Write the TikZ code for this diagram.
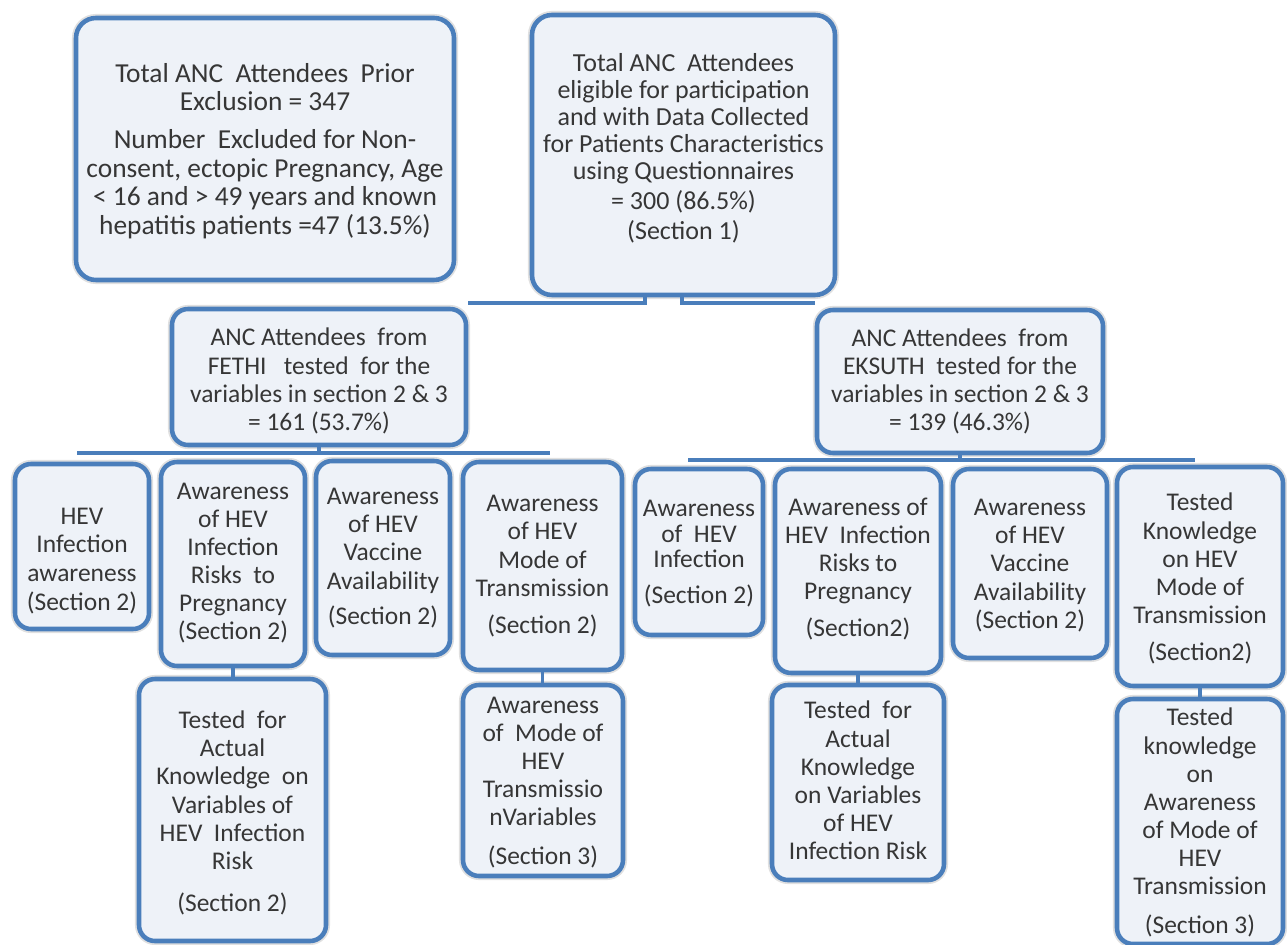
\documentclass[tikz,border=0pt]{standalone}
\usepackage{fontspec}
\setmainfont{Carlito}
\usetikzlibrary{fit}
\definecolor{bord}{HTML}{4A7EBB}
\definecolor{boxfill}{HTML}{EEF2F8}
\definecolor{txt}{HTML}{363636}
\begin{document}
\begin{tikzpicture}[x=0.02cm, y=-0.02cm,
  box/.style={draw=bord, line width=2.6pt, fill=boxfill, rounded corners=0.32cm,
    inner sep=0pt,
    preaction={draw=black!12, line width=4.6pt}},
  lbl/.style={inner sep=0pt, align=center, text=txt,
    font=\fontsize{14.5}{16}\selectfont},
  conn/.style={draw=bord, line width=2.5pt},
  conntwo/.style={draw=bord, line width=2pt}]
\fill[white] (0,0) rectangle (1287,945);
\useasboundingbox (0,0) rectangle (1287,945);

\coordinate (tl) at (645,303);
\coordinate (tr) at (682,303);
\coordinate (bla) at (77,453);
\coordinate (blb) at (550,453);
\coordinate (bra) at (688,460);
\coordinate (brb) at (1195,460);

% boxes
\node[box, rounded corners=0.4cm, fit={(76,18) (454,280)}] (A) {};
\node[box, rounded corners=0.4cm, fit={(532,15) (835,295)}] (B) {};
\node[box, fit={(172,309) (466,445)}] (F) {};
\node[box, fit={(817,310) (1103,453)}] (E) {};
\node[box, fit={(15,464) (149,629)}] (L1) {};
\node[box, fit={(161,462) (305,666)}] (L2) {};
\node[box, fit={(316,461) (450,655)}] (L3) {};
\node[box, fit={(463,462) (622,670)}] (L4) {};
\node[box, fit={(635,469) (763,635)}] (R1) {};
\node[box, fit={(775,469) (941,673)}] (R2) {};
\node[box, fit={(953,469) (1107,658)}] (R3) {};
\node[box, fit={(1117,467) (1283,686)}] (R4) {};
\node[box, fit={(139,679) (326,941)}] (LB2) {};
\node[box, fit={(463,685) (623,876)}] (LB4) {};
\node[box, fit={(772,685) (944,880)}] (RB2) {};
\node[box, fit={(1117,699) (1283,944)}] (RB4) {};

% texts
\node[lbl, font=\fontsize{15.6}{16.2}\selectfont, yshift=-0.04cm] (At) at (A.center)
  {Total ANC\ \ Attendees\ \ Prior\\Exclusion = 347\\[5.4pt]Number\ \ Excluded for Non-\\consent, ectopic Pregnancy, Age\\< 16 and > 49 years and known\\hepatitis patients =47 (13.5\%)};
\node[lbl, font=\fontsize{14.8}{15.3}\selectfont, yshift=-0.28cm] (Bt) at (B.center)
  {Total ANC\ \ Attendees\\eligible for participation\\and with Data Collected\\for Patients Characteristics\\using Questionnaires\\[2pt]= 300 (86.5\%)\\[2pt](Section 1)\\[10pt]};
\node[lbl, yshift=-0.08cm] (Ft) at (F.center)
  {ANC Attendees\ \ from\\FETHI\ \ \ tested\ \ for the\\variables in section 2 \& 3\\= 161 (53.7\%)};
\node[lbl] (Et) at (E.center)
  {ANC Attendees\ \ from\\EKSUTH\ \ tested for the\\variables in section 2 \& 3\\= 139 (46.3\%)};
\node[lbl, yshift=-0.30cm] (L1t) at (L1.center)
  {HEV\\Infection\\awareness\\[1pt](Section 2)};
\node[lbl, yshift=0.02cm] (L2t) at (L2.center)
  {Awareness\\of HEV\\Infection\\Risks\ \ to\\Pregnancy\\(Section 2)};
\node[lbl] (L3t) at (L3.center)
  {Awareness\\of HEV\\Vaccine\\Availability\\[4pt](Section 2)};
\node[lbl] (L4t) at (L4.center)
  {Awareness\\of HEV\\Mode of\\Transmission\\[5pt](Section 2)};
\node[lbl, font=\fontsize{14.5}{14.5}\selectfont, yshift=-0.04cm] (R1t) at (R1.center)
  {Awareness\\of\ \ HEV\\Infection\\[6pt](Section 2)};
\node[lbl, yshift=0.04cm] (R2t) at (R2.center)
  {Awareness of\\HEV\ \ Infection\\Risks to\\Pregnancy\\[5pt](Section2)};
\node[lbl, yshift=-0.04cm] (R3t) at (R3.center)
  {Awareness\\of HEV\\Vaccine\\Availability\\(Section 2)};
\node[lbl, yshift=-0.04cm] (R4t) at (R4.center)
  {Tested\\Knowledge\\on HEV\\Mode of\\Transmission\\[5pt](Section2)};
\node[lbl, yshift=-0.06cm] (LB2t) at (LB2.center)
  {Tested\ \ for\\Actual\\Knowledge\ \ on\\Variables of\\HEV\ \ Infection\\Risk\\[8pt](Section 2)};
\node[lbl, yshift=-0.04cm] (LB4t) at (LB4.center)
  {Awareness\\of\ \ Mode of\\HEV\\Transmissio\\nVariables\\[6pt](Section 3)};
\node[lbl, yshift=0.04cm] (RB2t) at (RB2.center)
  {Tested\ \ for\\Actual\\Knowledge\\on Variables\\of HEV\\Infection Risk};
\node[lbl, yshift=-0.02cm] (RB4t) at (RB4.center)
  {Tested\\knowledge\\on\\Awareness\\of Mode of\\HEV\\Transmission\\[6pt](Section 3)};

% connectors
\draw[conn] (tl -| F.east) -- (tl) -- (tl |- B.south);
\draw[conn] (tr |- B.south) -- (tr) -- (tr -| E.west);
\draw[conntwo] (bla) -- (blb);
\draw[conntwo] (F.south) -- (F.south |- bla);
\draw[conntwo] (bra) -- (brb);
\draw[conntwo] (E.south) -- (E.south |- bra);
\draw[conntwo] (L2.south) -- (L2.south |- LB2.north);
\draw[conntwo] (L4.south) -- (L4.south |- LB4.north);
\draw[conntwo] (R2.south) -- (R2.south |- RB2.north);
\draw[conntwo] (R4.south) -- (R4.south |- RB4.north);
\end{tikzpicture}
\end{document}
